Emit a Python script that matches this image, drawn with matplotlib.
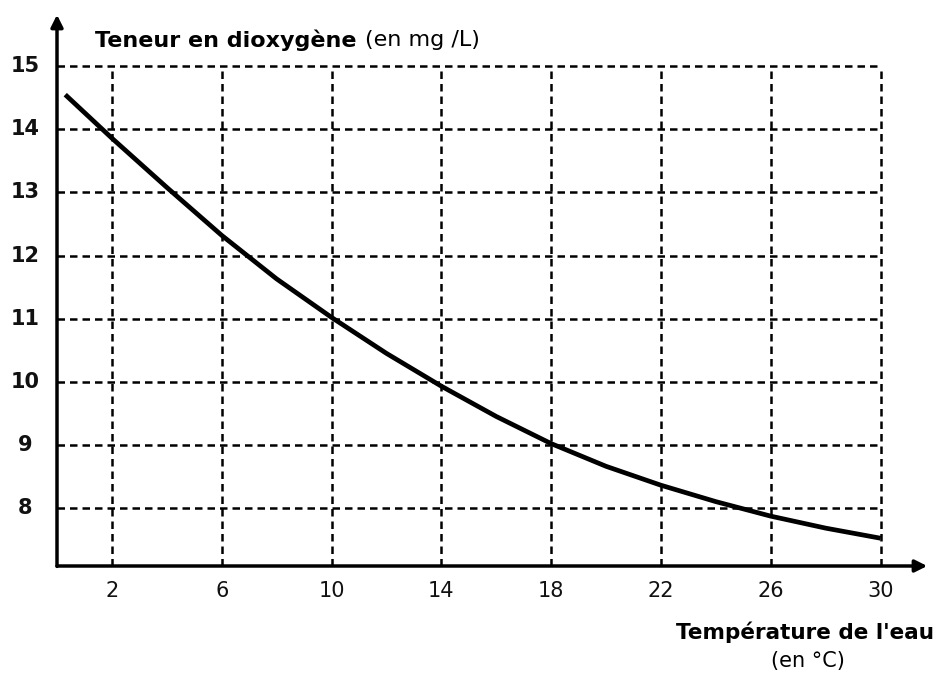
import matplotlib
matplotlib.use("Agg")
import matplotlib.pyplot as plt

# Data
temperature = [0.3, 2, 4, 6, 8, 10, 12, 14, 16, 18, 20, 22, 24, 26, 28, 30]
oxygen = [14.55, 13.86, 13.08, 12.32, 11.63, 11.02, 10.45, 9.93, 9.45, 9.02,
          8.66, 8.36, 8.10, 7.87, 7.68, 7.52]
x_ticks = [2, 6, 10, 14, 18, 22, 26, 30]
y_ticks = [8, 9, 10, 11, 12, 13, 14, 15]

plt.rcParams['font.family'] = ['DejaVu Sans']

fig = plt.figure(figsize=(9.38, 6.84), dpi=100)
ax = fig.add_axes([57/938, (684-566)/684, (930-57)/938, (566-12)/684])
xmin, xmax = 0, 31.8
ymin, ymax = 7.08, 15.86
ax.set_xlim(xmin, xmax)
ax.set_ylim(ymin, ymax)
for s in ax.spines.values():
    s.set_visible(False)
ax.set_xticks([])
ax.set_yticks([])

# dashed grid
for xv in x_ticks:
    ax.plot([xv, xv], [ymin, y_ticks[-1]], color='black', lw=1.8,
            linestyle=(0, (3, 2)), zorder=1)
for yv in y_ticks:
    ax.plot([xmin, x_ticks[-1]], [yv, yv], color='black', lw=1.8,
            linestyle=(0, (3, 2)), zorder=1)

# axes with arrows
ax.annotate('', xy=(xmax, ymin), xytext=(xmin - 0.1, ymin),
            arrowprops=dict(arrowstyle='-|>', color='black', lw=2.5,
                            mutation_scale=18), annotation_clip=False)
ax.annotate('', xy=(xmin, ymax), xytext=(xmin, ymin - 0.05),
            arrowprops=dict(arrowstyle='-|>', color='black', lw=2.5,
                            mutation_scale=18), annotation_clip=False)

# curve
ax.plot(temperature, oxygen, color='black', lw=3.4, solid_capstyle='butt', zorder=3)

# tick labels
for xv in x_ticks:
    ax.text(xv, 6.68, str(xv), ha='center', va='center', fontsize=15, color='#111111')
for yv in y_ticks:
    ax.text(-1.15, yv, str(yv), ha='center', va='center', fontsize=15,
            fontweight='bold', color='#111111')

# axis titles
t1 = ax.text(1.4, 15.42, 'Teneur en dioxygène', ha='left', va='center', fontsize=16,
             fontweight='bold')
ax.annotate('(en mg /L)', xy=(1, 0.5), xycoords=t1, xytext=(6, 0),
            textcoords='offset points', ha='left', va='center', fontsize=16)
fig.text(934/938, 1 - 632/684, "Température de l'eau", ha='right', va='center',
         fontsize=15.5, fontweight='bold')
fig.text(808/938, 1 - 661/684, '(en °C)', ha='center', va='center', fontsize=15)

fig.savefig('out.png', dpi=100)
